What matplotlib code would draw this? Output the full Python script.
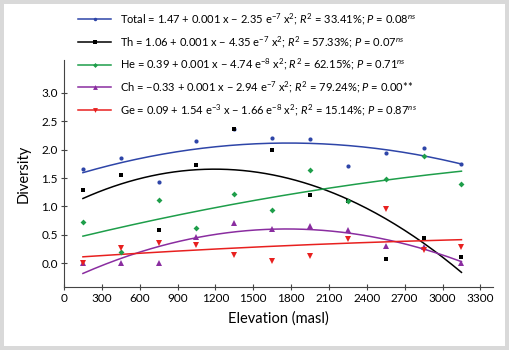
import matplotlib.pyplot as plt
import numpy as np
from matplotlib.lines import Line2D

font = 'Lato'
plt.rcParams['font.family'] = [font, 'DejaVu Sans']
plt.rcParams['mathtext.fontset'] = 'custom'
plt.rcParams['mathtext.rm'] = font
plt.rcParams['mathtext.it'] = font + ':italic'

elevation = [150, 450, 750, 1050, 1350, 1650, 1950, 2250, 2550, 2850, 3150]
total = [1.66, 1.85, 1.43, 2.16, 2.36, 2.21, 2.18, 1.72, 1.95, 2.03, 1.75]
th = [1.29, 1.55, 0.59, 1.73, 2.36, 1.99, 1.20, 1.09, 0.08, 0.45, 0.10]
he = [0.72, 0.19, 1.11, 0.62, 1.21, 0.94, 1.64, 1.09, 1.48, 1.88, 1.39]
ch = [0.00, 0.00, 0.00, 0.46, 0.70, 0.61, 0.66, 0.59, 0.30, 0.29, 0.00]
ge = [0.00, 0.26, 0.35, 0.32, 0.14, 0.03, 0.13, 0.42, 0.95, 0.23, 0.29]

labels = [
    r'Total = 1.47 + 0.001 x − 2.35 e$^{-7}$ x$^{2}$; $R^{2}$ = 33.41%; $P$ = 0.08$^{ns}$',
    r'Th = 1.06 + 0.001 x − 4.35 e$^{-7}$ x$^{2}$; $R^{2}$ = 57.33%; $P$ = 0.07$^{ns}$',
    r'He = 0.39 + 0.001 x − 4.74 e$^{-8}$ x$^{2}$; $R^{2}$ = 62.15%; $P$ = 0.71$^{ns}$',
    r'Ch = −0.33 + 0.001 x − 2.94 e$^{-7}$ x$^{2}$; $R^{2}$ = 79.24%; $P$ = 0.00**',
    r'Ge = 0.09 + 1.54 e$^{-3}$ x − 1.66 e$^{-8}$ x$^{2}$; $R^{2}$ = 15.14%; $P$ = 0.87$^{ns}$',
]
series = [total, th, he, ch, ge]
colors = ['#2e45a8', '#000000', '#1e9e4a', '#8a2da0', '#e8201f']
markers = ['o', 's', 'D', '^', 'v']
msizes = [3, 3, 3, 4, 4]

fig = plt.figure(figsize=(5.1, 3.5), dpi=100)
fig.patch.set_facecolor('#d9d9d9')
fig.add_artist(plt.Rectangle((4 / 510, 4 / 350), 501 / 510, 342 / 350,
                             transform=fig.transFigure, facecolor='white',
                             edgecolor='none', zorder=0))
ax = fig.add_axes([64 / 510, 63 / 350, 429 / 510, 227 / 350])
ax.set_facecolor('none')

x = np.array(elevation)
xs = np.linspace(150, 3150, 200)
handles = []
for vals, c, m, ms, lab in zip(series, colors, markers, msizes, labels):
    coef = np.polyfit(x, vals, 2)
    ax.plot(x, vals, linestyle='none', marker=m, markersize=ms, color=c,
            markeredgewidth=0, zorder=3)
    ax.plot(xs, np.polyval(coef, xs), color=c, lw=1.1)
    handles.append(Line2D([], [], color=c, lw=1.1, marker=m, markersize=ms - 0.5,
                          markeredgewidth=0, label=lab))

fig.legend(handles=handles, loc='upper left', bbox_to_anchor=(74 / 510, 343 / 350),
           frameon=False, fontsize=8, handlelength=2.9, handletextpad=0.8,
           labelspacing=0.62, borderaxespad=0)

ax.set_xlim(0, 3400)
ax.set_ylim(-0.42, 3.58)
ax.set_xticks(range(0, 3301, 300))
ax.set_yticks([0, 0.5, 1.0, 1.5, 2.0, 2.5, 3.0])
ax.set_yticklabels(['0.0', '0.5', '1.0', '1.5', '2.0', '2.5', '3.0'])
ax.spines['top'].set_visible(False)
ax.spines['right'].set_visible(False)
for s in ['left', 'bottom']:
    ax.spines[s].set_color('#444444')
    ax.spines[s].set_linewidth(0.8)
ax.tick_params(direction='inout', length=5, width=0.8, color='#444444',
               labelsize=8.5, pad=2)
ax.set_xlabel('Elevation (masl)', fontsize=10.5, labelpad=5)
ax.set_ylabel('Diversity', fontsize=10.5, labelpad=8)

fig.savefig('out.png', dpi=100, facecolor=fig.get_facecolor())
